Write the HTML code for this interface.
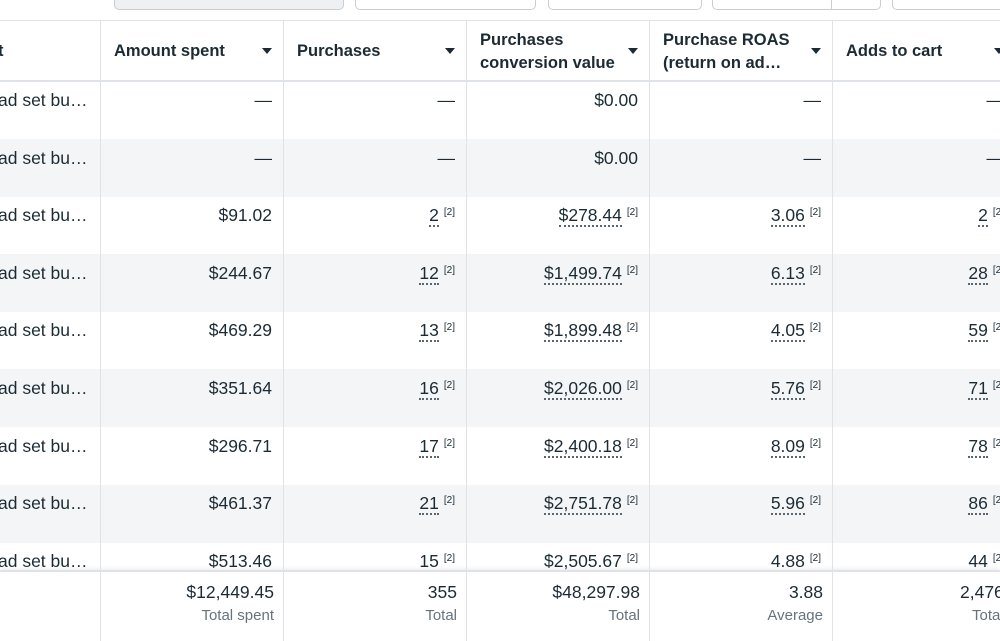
<!DOCTYPE html>
<html><head><meta charset="utf-8"><style>
*{margin:0;padding:0;box-sizing:border-box}
body{width:1000px;height:641px;overflow:hidden;background:#fff;font-family:"Liberation Sans",sans-serif;color:#1c2b33;position:relative}
.a{position:absolute}
.btn{position:absolute;top:-10px;height:20px;border:1.5px solid #c9ced4;border-radius:5px;background:#fff}
.vl{position:absolute;top:20px;height:621px;width:1px;background:#dfe2e6}
.row{position:absolute;left:0;width:1000px;height:58px}
.alt{background:#f4f5f7}
.c{position:absolute;font-size:17.5px;white-space:nowrap;text-align:right}
.h{position:absolute;font-size:16.5px;font-weight:bold;line-height:23px}
.tri{position:absolute;width:0;height:0;border-left:5px solid transparent;border-right:5px solid transparent;border-top:6px solid #1c2b33}
.u{border-bottom:2px dotted #5a656d;line-height:18px}
sup{font-size:10px;vertical-align:6px;margin-left:5px}
.lab{font-size:15px;color:#67737c}
</style></head><body>
<div class="btn" style="left:114px;width:230px;background:#eef0f2"></div>
<div class="btn" style="left:355px;width:181px"></div>
<div class="btn" style="left:548px;width:154px"></div>
<div class="btn" style="left:712px;width:169px"></div>
<div class="a" style="left:831px;top:-10px;width:1px;height:20px;background:#c9ced4"></div>
<div class="btn" style="left:892px;width:120px"></div>
<div class="a" style="left:0;top:20px;width:1000px;height:1px;background:#dfe2e6"></div>
<div class="a" style="left:0;top:80px;width:1000px;height:2px;background:#dfe2e6"></div>

<div class="row alt" style="top:139px"></div>
<div class="row alt" style="top:254px"></div>
<div class="row alt" style="top:369px"></div>
<div class="row alt" style="top:485px"></div>

<div class="h" style="left:-2px;top:40px">t</div>
<div class="h" style="left:114px;top:40px">Amount spent</div><div class="tri" style="left:262px;top:48px"></div>
<div class="h" style="left:297px;top:40px">Purchases</div><div class="tri" style="left:445px;top:48px"></div>
<div class="h" style="left:480px;top:29px">Purchases<br>conversion value</div><div class="tri" style="left:628px;top:48px"></div>
<div class="h" style="left:663px;top:29px">Purchase ROAS<br>(return on ad…</div><div class="tri" style="left:811px;top:48px"></div>
<div class="h" style="left:846px;top:40px">Adds to cart</div><div class="tri" style="left:994px;top:48px"></div>

<div id="rows"></div>
<script>
var d=[["—","—","$0.00","—","—"],["—","—","$0.00","—","—"],["$91.02","2","$278.44","3.06","2"],["$244.67","12","$1,499.74","6.13","28"],["$469.29","13","$1,899.48","4.05","59"],["$351.64","16","$2,026.00","5.76","71"],["$296.71","17","$2,400.18","8.09","78"],["$461.37","21","$2,751.78","5.96","86"],["$513.46","15","$2,505.67","4.88","44"]];
var rights=[272,455,638,821,1004];var h="";
d.forEach(function(r,i){var y=90+57.6*i;
h+='<div class="c" style="left:-2px;top:'+y+'px">ad set bu…</div>';
r.forEach(function(v,j){var s;
if(j==0||v=="—"||v=="$0.00")s=v;else s='<span class="u">'+v+'</span><sup>[2]</sup>';
h+='<div class="c" style="right:'+(1000-rights[j])+'px;top:'+y+'px">'+s+'</div>';});});
document.getElementById("rows").innerHTML=h;
</script>
<div class="a" style="left:0;top:570px;width:1000px;height:71px;background:#fff;border-top:2px solid #dfe2e6;box-shadow:0 -2px 3px rgba(0,0,0,0.06)"></div>
<div class="c" style="right:726px;top:582px">$12,449.45</div><div class="c lab" style="right:726px;top:607px">Total spent</div>
<div class="c" style="right:543px;top:582px">355</div><div class="c lab" style="right:543px;top:607px">Total</div>
<div class="c" style="right:360px;top:582px">$48,297.98</div><div class="c lab" style="right:360px;top:607px">Total</div>
<div class="c" style="right:177px;top:582px">3.88</div><div class="c lab" style="right:177px;top:607px">Average</div>
<div class="c" style="left:960px;top:582px">2,476</div><div class="c lab" style="left:972px;top:607px">Total</div>

<div class="vl" style="left:100px"></div>
<div class="vl" style="left:283px"></div>
<div class="vl" style="left:466px"></div>
<div class="vl" style="left:649px"></div>
<div class="vl" style="left:832px"></div>
</body></html>
